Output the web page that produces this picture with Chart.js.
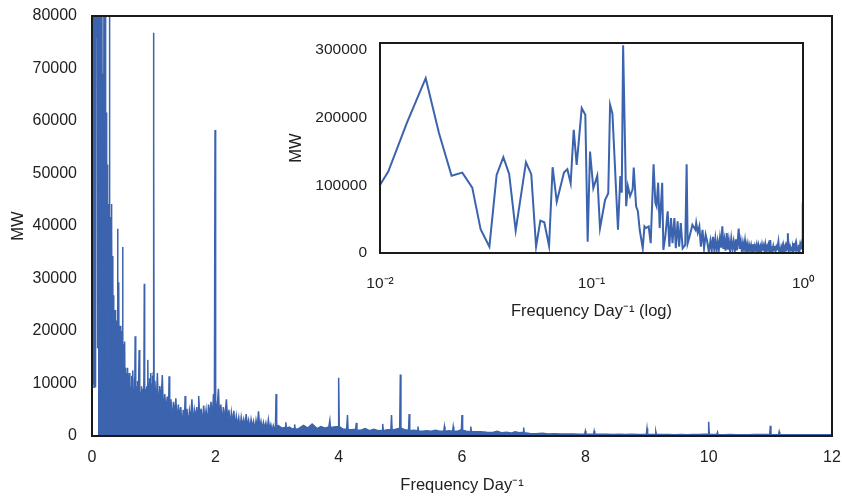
<!DOCTYPE html>
<html>
<head>
<meta charset="utf-8">
<script src="https://cdn.jsdelivr.net/npm/chart.js@4.4.1/dist/chart.umd.min.js"></script>
<style>
  body { margin: 0; background: #fff; }
  #wrap { position: relative; width: 842px; height: 496px; }
  #insetChart { position: absolute; left: 280px; top: 30px; }
</style>
</head>
<body>
<div id="wrap">
  <canvas id="mainChart" width="842" height="496"></canvas>
  <canvas id="insetChart" width="540" height="300"></canvas>
</div>
<script>
// spectrum (frequency in 1/day, power in MW)
const lowFreq = [
  0, 0.01, 0.01094, 0.0134, 0.01645, 0.019, 0.0218, 0.0245, 0.0273, 0.0299,
  0.0329, 0.0356, 0.0383, 0.0408, 0.0438, 0.049, 0.0519, 0.0547, 0.0573, 0.0598,
  0.063, 0.0655, 0.0685, 0.0741, 0.0769, 0.0797, 0.0824, 0.0851, 0.0899, 0.0935,
  0.0959, 0.0984, 0.102, 0.1065, 0.1097, 0.1159, 0.12, 0.1224, 0.1256, 0.1334,
  0.1369, 0.139, 0.1411, 0.1459, 0.1486, 0.1523, 0.1565, 0.1584, 0.1625, 0.1657,
  0.169, 0.1747, 0.178, 0.181, 0.1863, 0.1905, 0.1966, 0.2004, 0.203, 0.2066,
  0.21, 0.2159, 0.2187, 0.2233, 0.2292, 0.2334, 0.2376, 0.2415, 0.2465, 0.2504,
  0.2553, 0.2597, 0.2643, 0.2697, 0.2775, 0.2817, 0.2849, 0.2908, 0.3, 0.31,
  0.3127, 0.318, 0.3235, 0.329, 0.3348, 0.3405, 0.3465, 0.3524, 0.3586
];
const lowPower = [
  10000, 100500, 120100, 192000, 258000, 177000, 114000, 118700, 96500, 35000,
  9300, 115300, 141400, 116700, 33000, 134000, 116300, 9300, 47700, 45300,
  10300, 126600, 75800, 118700, 123600, 103000, 181800, 130000, 213800, 204000,
  16700, 149700, 95600, 114200, 36500, 78300, 88200, 218700, 205600, 34300,
  113700, 88900, 306500, 69000, 98800, 84000, 93900, 126200, 69000, 61600,
  34300, 7000, 39200, 36800, 39200, 14400, 131100, 74000, 69000, 103800,
  36800, 103800, 4500, 24300, 61600, 9400, 51700, 14400, 51700, 7000,
  46700, 9400, 44200, 7000, 12000, 131100, 14400, 24300, 41700, 34300,
  44200, 30000, 39200, 9400, 34300, 7000, 26800, 16900, 2000
];

const dailyFreq = [
  0.365, 0.37, 0.375, 0.38, 0.385, 0.39, 0.395, 0.4, 0.405, 0.41,
  0.4155, 0.42, 0.425, 0.43, 0.436, 0.441, 0.446, 0.452, 0.458, 0.464,
  0.47, 0.476, 0.482, 0.4875, 0.4965, 0.502, 0.508, 0.514, 0.52, 0.526,
  0.532, 0.538, 0.544, 0.55, 0.556, 0.562, 0.568, 0.574, 0.58, 0.586,
  0.592, 0.598, 0.604, 0.61, 0.616, 0.622, 0.628, 0.634, 0.64, 0.646,
  0.652, 0.658, 0.664, 0.67, 0.676, 0.682, 0.688, 0.694, 0.7, 0.706,
  0.712, 0.718, 0.724, 0.73, 0.736, 0.742, 0.748, 0.754, 0.76, 0.765,
  0.771, 0.777, 0.783, 0.789, 0.795, 0.801, 0.807, 0.813, 0.819, 0.825,
  0.831, 0.837, 0.843, 0.848, 0.854, 0.86, 0.866, 0.872, 0.878, 0.884,
  0.89, 0.896, 0.902, 0.908, 0.914, 0.92, 0.926, 0.932, 0.938, 0.944,
  0.95, 0.956, 0.962, 0.968, 0.974, 0.98, 0.986, 0.993, 0.997, 1.0
];
const dailyPower = [
  18000, 3000, 24000, 6000, 21000, 2500, 17000, 5000, 22000, 8000,
  39500, 6000, 19000, 3500, 29300, 5000, 18500, 2000, 21000, 6000,
  17000, 3000, 20000, 4000, 36000, 6000, 17500, 2500, 15000, 5000,
  18000, 3500, 13000, 2000, 12000, 4500, 11500, 1500, 13000, 3000,
  10500, 5000, 12000, 2000, 11000, 4000, 9500, 1800, 11500, 3500,
  10000, 2500, 12500, 4500, 9000, 2000, 11000, 5000, 19000, 3000,
  10000, 1500, 9500, 4000, 10500, 2500, 8500, 5000, 11000, 16400,
  3000, 9000, 2000, 8500, 4500, 9500, 1800, 8000, 3500, 9000,
  2500, 10000, 6000, 29000, 4000, 9000, 2000, 8000, 4500, 9500,
  2500, 8500, 5000, 14500, 3000, 10000, 2000, 11000, 4500, 9000,
  3000, 12000, 2500, 10000, 5000, 11500, 6000, 12000, 72000, 76800
];

const midFreq = [
  1.003, 1.007, 1.02, 1.04, 1.06, 1.08, 1.1, 1.12, 1.14, 1.16,
  1.18, 1.2, 1.22, 1.24, 1.25, 1.26, 1.28, 1.3, 1.32, 1.34,
  1.36, 1.38, 1.4, 1.42, 1.44, 1.46, 1.48, 1.5, 1.51, 1.52,
  1.54, 1.56, 1.58, 1.6, 1.62, 1.64, 1.66, 1.68, 1.7, 1.72,
  1.73, 1.75, 1.77, 1.79, 1.81, 1.83, 1.85, 1.87, 1.89, 1.91,
  1.93, 1.95, 1.97, 1.985, 1.995, 2.005, 2.02, 2.05, 2.07, 2.09,
  2.11, 2.13, 2.15, 2.18, 2.2, 2.22, 2.24, 2.26, 2.28, 2.3,
  2.32, 2.34, 2.36, 2.38, 2.4, 2.42, 2.44, 2.46, 2.48, 2.5,
  2.52, 2.54, 2.56, 2.58, 2.6, 2.62, 2.64, 2.66, 2.68, 2.7,
  2.72, 2.74, 2.76, 2.78, 2.8, 2.82, 2.84, 2.86, 2.88, 2.9,
  2.92, 2.94, 2.96, 2.975, 2.985, 2.995
];
const midPower = [
  58000, 9000, 10500, 5000, 12000, 4000, 9500, 6000, 11600, 3500,
  8000, 4500, 7500, 3000, 11400, 5000, 7000, 2500, 6500, 4000,
  7200, 2000, 6000, 3500, 5500, 1500, 5000, 3000, 7600, 2500,
  5200, 1800, 4800, 3000, 7000, 2000, 5000, 3500, 5500, 2500,
  7600, 3000, 5200, 1800, 5800, 3000, 5000, 2200, 6000, 3500,
  6500, 3000, 8000, 6000, 58300, 7000, 3500, 9000, 3000, 6000,
  2000, 5500, 3000, 7000, 2500, 5000, 1800, 4500, 2500, 4800,
  1500, 3800, 2000, 3500, 1200, 3600, 2000, 3200, 1500, 4200,
  1800, 3000, 1200, 3200, 1800, 2800, 1000, 3000, 1500, 4700,
  1500, 2800, 1200, 2600, 1500, 2500, 1000, 3100, 1300, 2200,
  900, 2000, 1200, 1800, 8000, 1500
];

const highFreq = [
  3.02, 3.08, 3.13, 3.143, 3.153, 3.2, 3.25, 3.28, 3.286, 3.295,
  3.35, 3.43, 3.5, 3.57, 3.65, 3.71, 3.78, 3.84, 3.857, 3.867,
  3.93, 3.99, 4.0, 4.01, 4.07, 4.13, 4.143, 4.153, 4.21, 4.276,
  4.286, 4.296, 4.36, 4.43, 4.5, 4.57, 4.64, 4.704, 4.714, 4.724,
  4.79, 4.847, 4.857, 4.867, 4.93, 4.99, 5.0, 5.01, 5.07, 5.133,
  5.143, 5.153, 5.22, 5.276, 5.286, 5.296, 5.36, 5.43, 5.5, 5.57,
  5.64, 5.704, 5.714, 5.724, 5.79, 5.847, 5.857, 5.867, 5.93, 5.99,
  6.0, 6.01, 6.07, 6.133, 6.143, 6.153, 6.22, 6.3, 6.4, 6.5,
  6.57, 6.65, 6.72, 6.8, 6.86, 6.93, 6.99, 7.0, 7.01, 7.1,
  7.2, 7.3, 7.4, 7.5, 7.6, 7.7, 7.8, 7.9, 7.99, 8.0,
  8.01, 8.07, 8.133, 8.143, 8.153, 8.25, 8.35, 8.45, 8.55, 8.65,
  8.75, 8.85, 8.99, 9.0, 9.01, 9.07, 9.133, 9.143, 9.153, 9.25,
  9.35, 9.45, 9.55, 9.65, 9.75, 9.85, 9.99, 10.0, 10.01, 10.07,
  10.133, 10.143, 10.153, 10.25, 10.35, 10.45, 10.55, 10.65, 10.75, 10.85,
  10.99, 11.0, 11.01, 11.07, 11.133, 11.143, 11.153, 11.25, 11.35, 11.45,
  11.55, 11.65, 11.75, 11.85, 12.0
];
const highPower = [
  2000, 1500, 1600, 2600, 1500, 1700, 1300, 1500, 2200, 1300,
  1400, 2000, 1500, 2300, 1400, 1800, 1500, 1700, 3000, 1600,
  1700, 1800, 11100, 1800, 1300, 1300, 4000, 1200, 1200, 1300,
  2500, 1100, 1100, 1400, 1000, 1300, 1000, 1100, 2300, 1000,
  1200, 1200, 4000, 1100, 1300, 1500, 11700, 1500, 1200, 1100,
  4200, 1000, 1100, 1000, 1800, 900, 900, 1000, 900, 1100,
  900, 900, 1800, 900, 1000, 900, 1800, 900, 900, 1200,
  4000, 1100, 900, 850, 1800, 800, 800, 800, 700, 650,
  900, 600, 700, 550, 800, 600, 700, 1600, 600, 500,
  450, 500, 400, 450, 400, 380, 400, 350, 400, 950,
  380, 350, 350, 950, 350, 330, 350, 300, 330, 300,
  320, 300, 350, 1460, 330, 300, 300, 830, 300, 280,
  300, 260, 280, 260, 300, 280, 400, 2730, 350, 280,
  280, 700, 260, 250, 270, 240, 260, 250, 270, 280,
  350, 1950, 300, 260, 260, 830, 250, 230, 250, 230,
  250, 230, 240, 230, 220
];

const mainXTicks = [0, 2, 4, 6, 8, 10, 12];
const insetYTicks = [0, 100000, 200000, 300000];
const insetXTicks = [0.01, 0.1, 1];
const insetXLabels = ['10\u207B\u00B2', '10\u207B\u00B9', '10\u2070'];

const lineColor = '#3b63ae';
const inkColor = '#222222';
const fontFamily = '"Liberation Sans", Arial, sans-serif';

const freqs = lowFreq.concat(dailyFreq, midFreq, highFreq);
const powers = lowPower.concat(dailyPower, midPower, highPower);
const points = freqs.map((f, i) => ({ x: f, y: powers[i] }));

// below ~0.1/day the trace never drops under ~9000, so the area under it stays white there
const fillFrom = 0.0959;

const framePlugin = {
  id: 'frame',
  afterDraw(chart) {
    const a = chart.chartArea;
    const ctx = chart.ctx;
    ctx.save();
    ctx.strokeStyle = '#1a1a1a';
    ctx.lineWidth = 2;
    ctx.strokeRect(a.left, a.top, a.right - a.left, a.bottom - a.top);
    ctx.restore();
  }
};

// keep the plot box where the layout padding puts it
function fixWidth(w) {
  return s => { s.width = w; s.paddingTop = 0; s.paddingBottom = 0; };
}
function fixHeight(h) {
  return s => { s.height = h; s.paddingLeft = 0; s.paddingRight = 0; };
}
const plainNumber = v => String(v);

Chart.defaults.font.family = fontFamily;
Chart.defaults.color = inkColor;

new Chart(document.getElementById('mainChart'), {
  type: 'line',
  data: {
    datasets: [{
      data: points.filter(p => p.x <= fillFrom),
      borderColor: lineColor,
      borderWidth: 1.5,
      fill: false,
      pointRadius: 0,
      tension: 0
    }, {
      data: points.filter(p => p.x >= fillFrom),
      borderColor: lineColor,
      backgroundColor: lineColor,
      borderWidth: 1.5,
      fill: 'origin',
      pointRadius: 0,
      tension: 0
    }]
  },
  options: {
    responsive: false,
    animation: false,
    layout: { padding: { left: 0, right: 10, top: 16, bottom: 0 } },
    plugins: { legend: { display: false }, tooltip: { enabled: false } },
    scales: {
      x: {
        type: 'linear', min: 0, max: 12,
        afterBuildTicks: s => { s.ticks = mainXTicks.map(v => ({ value: v })); },
        afterFit: fixHeight(60),
        grid: { display: false, drawTicks: false },
        border: { display: false },
        ticks: { font: { size: 16 }, padding: 12, maxRotation: 0, callback: plainNumber },
        title: { display: true, text: 'Frequency Day\u207B\u00B9', font: { size: 16.5 }, padding: 1 }
      },
      y: {
        min: 0, max: 80000,
        ticks: { stepSize: 10000, font: { size: 16 }, padding: 15, callback: plainNumber },
        afterFit: fixWidth(92),
        grid: { display: false, drawTicks: false },
        border: { display: false },
        title: { display: true, text: 'MW', font: { size: 16.5 }, padding: 8.5 }
      }
    }
  },
  plugins: [framePlugin]
});

new Chart(document.getElementById('insetChart'), {
  type: 'line',
  data: {
    datasets: [{
      data: points.filter(p => p.x >= 0.01 && p.x <= 1),
      borderColor: lineColor,
      borderWidth: 2,
      fill: false,
      pointRadius: 0,
      tension: 0
    }]
  },
  options: {
    responsive: false,
    animation: false,
    layout: { padding: { left: 0, right: 17, top: 13, bottom: 0 } },
    plugins: { legend: { display: false }, tooltip: { enabled: false } },
    scales: {
      x: {
        type: 'logarithmic', min: 0.01, max: 1,
        afterBuildTicks: s => { s.ticks = insetXTicks.map(v => ({ value: v })); },
        afterFit: fixHeight(77),
        grid: { display: false, drawTicks: false },
        border: { display: false },
        ticks: {
          font: { size: 15.5 }, padding: 21, maxRotation: 0, autoSkip: false,
          callback: v => insetXLabels[insetXTicks.findIndex(t => Math.abs(t - v) < t * 1e-6)]
        },
        title: { display: true, text: 'Frequency Day\u207B\u00B9 (log)', font: { size: 16.5 }, padding: 8.4 }
      },
      y: {
        min: 0, max: 310000,
        afterBuildTicks: s => { s.ticks = insetYTicks.map(v => ({ value: v })); },
        afterFit: fixWidth(100),
        grid: { display: false, drawTicks: false },
        border: { display: false },
        ticks: { font: { size: 15.5 }, padding: 13, callback: plainNumber },
        title: { display: true, text: 'MW', font: { size: 16.5 }, padding: 7 }
      }
    }
  },
  plugins: [framePlugin]
});
</script>
</body>
</html>
